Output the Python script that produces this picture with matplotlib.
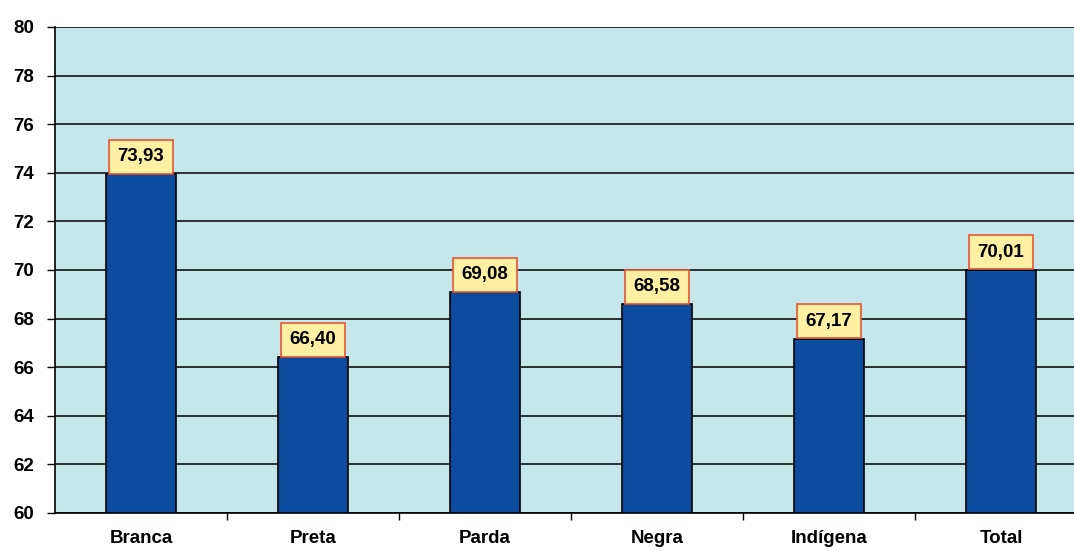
import numpy as np
from matplotlib import pyplot as plt

categorias = ['Branca', 'Preta', 'Parda', 'Negra', 'Indígena', 'Total']
valores = [73.93, 66.40, 69.08, 68.58, 67.17, 70.01]
rotulos = ['73,93', '66,40', '69,08', '68,58', '67,17', '70,01']
yticks = [60, 62, 64, 66, 68, 70, 72, 74, 76, 78, 80]

plt.rcParams['font.family'] = ['Liberation Sans', 'DejaVu Sans']
fs = 13.5

fig = plt.figure(figsize=(10.74, 5.51), dpi=100)
ax = fig.add_axes([0.0512, 0.069, 0.961, 0.882])
ax.set_facecolor('#c6e7e9')

x = np.arange(len(categorias))
ax.bar(x, np.array(valores) - 60, bottom=60, width=0.41,
       color='#0b4c9f', edgecolor='black', linewidth=1.2, zorder=3)

ax.set_ylim(60, 80)
ax.set_xlim(-0.5, len(categorias) - 0.5)
ax.set_yticks(yticks)
ax.set_yticklabels([str(v) for v in yticks], fontsize=fs, fontweight='bold')
ax.yaxis.grid(True, color='black', linewidth=1.1, zorder=1)
ax.set_axisbelow(True)

# category labels at centres, ticks at the boundaries
ax.set_xticks(x)
ax.set_xticklabels(categorias, fontsize=fs, fontweight='bold')
ax.tick_params(axis='x', length=0, pad=12)
ax.set_xticks(x[:-1] + 0.5, minor=True)
ax.tick_params(axis='x', which='minor', length=5, width=1)
ax.tick_params(axis='y', length=6, width=1, pad=9)

for s in ['top', 'right']:
    ax.spines[s].set_visible(False)
ax.spines['left'].set_linewidth(1.2)
ax.spines['bottom'].set_linewidth(1.2)

for xi, v, r in zip(x, valores, rotulos):
    ax.annotate(r, (xi, v), xytext=(0, 6.5), textcoords='offset points',
                ha='center', va='bottom', fontsize=fs, fontweight='bold',
                bbox=dict(boxstyle='square,pad=0.45', facecolor='#fdf0a2',
                          edgecolor='#e8553a', linewidth=1.2), zorder=5)

fig.savefig('out.png', dpi=100)
